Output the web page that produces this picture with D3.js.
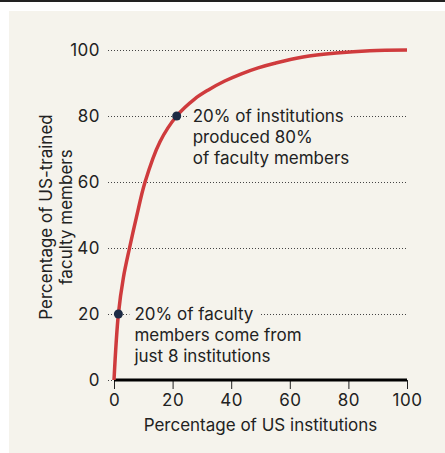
<!DOCTYPE html>
<html>
<head>
<meta charset="utf-8">
<style>
  body { margin: 0; background: #fff; }
  svg text { font-family: Inter, "Noto Sans", sans-serif; fill: #222; }
</style>
</head>
<body>
<div id="chart"></div>
<script src="https://d3js.org/d3.v7.min.js"></script>
<script>

    // curve: % of institutions vs cumulative % of faculty
    var instPct    = [0, 1.5, 3.2, 5.3, 7.7, 10.6, 15.7, 21.4, 27.6, 32.2, 37.8, 43.5, 49.2, 54.9, 64.5, 75.9, 87.3, 100];
    var facultyPct = [0, 20, 31, 40, 49.5, 60, 72.2, 80, 85.2, 87.9, 90.6, 92.8, 94.6, 96.0, 97.9, 99.1, 99.8, 100];

    var xTicks = [0, 20, 40, 60, 80, 100];
    var yTicks = [0, 20, 40, 60, 80, 100];

    // highlighted points and their notes
    var noteX = [21.4, 1.5];
    var noteY = [80, 20];
    var noteText = [
      ["20% of institutions", "produced 80%", "of faculty members"],
      ["20% of faculty", "members come from", "just 8 institutions"]
    ];

    var W = 445, H = 453;
    var margin = {top: 50, right: 38, bottom: 73, left: 114},
        width = W - margin.left - margin.right,
        height = H - margin.top - margin.bottom;
    var bg = "#f5f3ec";

    var svg = d3.select("#chart").append("svg")
        .attr("width", W)
        .attr("height", H);

    // top rule and panel
    svg.append("rect").attr("x", 0).attr("y", 0).attr("width", W).attr("height", 2).attr("fill", "#222");
    svg.append("rect").attr("x", 9).attr("y", 11).attr("width", W - 9).attr("height", H - 11).attr("fill", bg);

    var g = svg.append("g")
        .attr("transform", "translate(" + margin.left + "," + margin.top + ")");

    var x = d3.scaleLinear().domain([0, 100]).range([0, width]);
    var y = d3.scaleLinear().domain([0, 100]).range([height, 0]);

    // dotted gridlines + labels
    var yAxis = g.append("g")
        .call(d3.axisLeft(y).tickValues(yTicks).tickSize(6).tickPadding(8));
    yAxis.select(".domain").remove();
    yAxis.selectAll(".tick line")
        .attr("x1", -6).attr("x2", width)
        .attr("stroke", "#444")
        .attr("stroke-dasharray", "1,2");
    yAxis.selectAll(".tick text")
        .attr("x", -14)
        .style("font-size", "17px")
        .style("letter-spacing", "0.5px");

    // x axis
    var xAxis = g.append("g")
        .attr("transform", "translate(0," + height + ")")
        .call(d3.axisBottom(x).tickValues(xTicks).tickSize(9).tickPadding(5));
    xAxis.select(".domain").remove();
    xAxis.selectAll(".tick line").attr("stroke", "#222");
    xAxis.selectAll(".tick text")
        .style("font-size", "17px")
        .style("letter-spacing", "0.5px");
    g.append("line")
        .attr("x1", x(0)).attr("x2", x(100))
        .attr("y1", height).attr("y2", height)
        .attr("stroke", "#000").attr("stroke-width", 3);

    // annotations (masking the gridline behind the first line)
    noteText.forEach(function(lines, i) {
      var tx = x(noteX[i]) + 16, ty = y(noteY[i]);
      var mask = g.append("rect");
      var t = g.append("text").style("font-size", "17px");
      lines.forEach(function(s, j) {
        t.append("tspan").attr("x", tx).attr("y", ty + 6 + j * 20.8).text(s);
      });
      var w = t.select("tspan").node().getComputedTextLength();
      mask.attr("x", tx - 5).attr("y", ty - 4)
          .attr("width", w + 11).attr("height", 8)
          .attr("fill", bg);
    });

    // curve
    var line = d3.line()
        .x(function(d) { return x(d[0]); })
        .y(function(d) { return y(d[1]); })
        .curve(d3.curveCatmullRom.alpha(0.5));
    g.append("path")
        .datum(d3.zip(instPct, facultyPct))
        .attr("d", line)
        .attr("fill", "none")
        .attr("stroke", "#cf3b3d")
        .attr("stroke-width", 3.5);

    g.selectAll("circle.pt")
        .data(d3.zip(noteX, noteY))
        .enter().append("circle")
        .attr("cx", function(d) { return x(d[0]); })
        .attr("cy", function(d) { return y(d[1]); })
        .attr("r", 4.5)
        .attr("fill", "#1d2b44");

    // axis titles
    svg.append("text")
        .attr("x", margin.left + width / 2).attr("y", 431)
        .attr("text-anchor", "middle")
        .style("font-size", "17px")
        .text("Percentage of US institutions");

    var yt = svg.append("text")
        .attr("transform", "translate(52,217) rotate(-90)")
        .attr("text-anchor", "middle")
        .style("font-size", "17px");
    yt.append("tspan").attr("x", 0).attr("y", 0).text("Percentage of US-trained");
    yt.append("tspan").attr("x", 0).attr("y", 19.5).text("faculty members");

</script>
</body>
</html>
